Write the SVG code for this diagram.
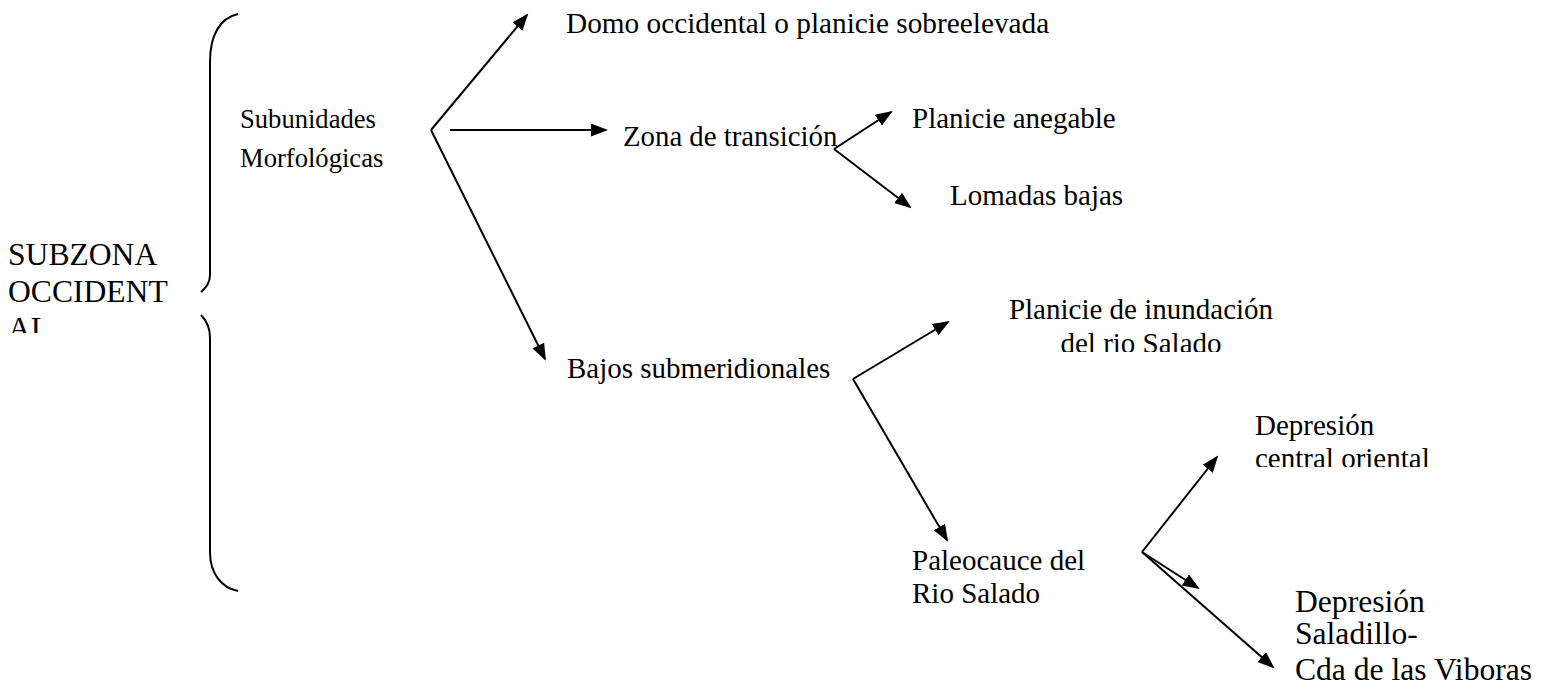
<svg xmlns="http://www.w3.org/2000/svg" width="1550" height="680" viewBox="0 0 1550 680">
<style>
text{font-family:'Liberation Serif','Times New Roman',serif;fill:#000}
.s11{font-size:26.6px}
.s12{font-size:29px}
.s13{font-size:31.6px}
.c{stroke:#000;stroke-width:2;fill:none}
</style>
<defs>
<marker id="ah" markerUnits="userSpaceOnUse" markerWidth="18" markerHeight="14" refX="15" refY="6.5" orient="auto">
<path d="M0,0 L17,6.5 L0,13 z" fill="#000"/>
</marker>
<clipPath id="clipSub"><rect x="0" y="200" width="200" height="133"/></clipPath>
<clipPath id="clipInund"><rect x="990" y="280" width="300" height="72"/></clipPath>
<clipPath id="clipCentral"><rect x="1240" y="400" width="250" height="67"/></clipPath>
</defs>
<rect width="1550" height="680" fill="#fff"/>
<g id="brace">
<path class="c" d="M238,14 C220,18 210,35 210,62 L210,275 C210,284 205,288 201,292"/>
<path class="c" d="M201,315 C206,320 210,327 210,338 L210,552 C210,574 222,588 238,591"/>
</g>
<g id="subzona" clip-path="url(#clipSub)">
<text class="s13" x="8" y="265">SUBZONA</text>
<text class="s13" x="8" y="302">OCCIDENT</text>
<text class="s13" x="8" y="339">AL</text>
</g>
<g id="subunidades">
<text class="s11" x="240" y="128">Subunidades</text>
<text class="s11" x="240" y="167">Morfológicas</text>
</g>
<g id="domo"><text class="s12" x="566" y="33" style="font-size:29.3px">Domo occidental o planicie sobreelevada</text></g>
<g id="zona"><text class="s12" x="623" y="146" style="font-size:28.8px">Zona de transición</text></g>
<g id="anegable"><text class="s12" x="912" y="128">Planicie anegable</text></g>
<g id="lomadas"><text class="s12" x="950" y="205">Lomadas bajas</text></g>
<g id="bajos"><text class="s12" x="567" y="378">Bajos submeridionales</text></g>
<g id="inundacion" clip-path="url(#clipInund)">
<text class="s12" x="1141" y="319" text-anchor="middle">Planicie de inundación</text>
<text class="s12" x="1141" y="353" text-anchor="middle">del rio Salado</text>
</g>
<g id="central" clip-path="url(#clipCentral)">
<text class="s12" x="1255" y="435">Depresión</text>
<text class="s12" x="1255" y="468">central oriental</text>
</g>
<g id="paleocauce">
<text class="s12" x="912" y="570">Paleocauce del</text>
<text class="s12" x="912" y="603">Rio Salado</text>
</g>
<g id="saladillo">
<text class="s13" x="1295" y="612">Depresión</text>
<text class="s13" x="1295" y="644">Saladillo-</text>
<text class="s13" x="1295" y="680">Cda de las Viboras</text>
</g>
<g id="connectors">
<line class="c" x1="431" y1="130" x2="527" y2="15" marker-end="url(#ah)"/>
<line class="c" x1="450" y1="130" x2="606" y2="130" marker-end="url(#ah)"/>
<line class="c" x1="431" y1="130" x2="545" y2="359" marker-end="url(#ah)"/>
<line class="c" x1="834" y1="149" x2="891" y2="112" marker-end="url(#ah)"/>
<line class="c" x1="834" y1="149" x2="910" y2="207" marker-end="url(#ah)"/>
<line class="c" x1="853" y1="379" x2="948" y2="322" marker-end="url(#ah)"/>
<line class="c" x1="853" y1="379" x2="947" y2="540" marker-end="url(#ah)"/>
<line class="c" x1="1142" y1="552" x2="1217" y2="457" marker-end="url(#ah)"/>
<line class="c" x1="1142" y1="552" x2="1198" y2="588" marker-end="url(#ah)"/>
<line class="c" x1="1142" y1="552" x2="1273" y2="667" marker-end="url(#ah)"/>
</g>
</svg>
